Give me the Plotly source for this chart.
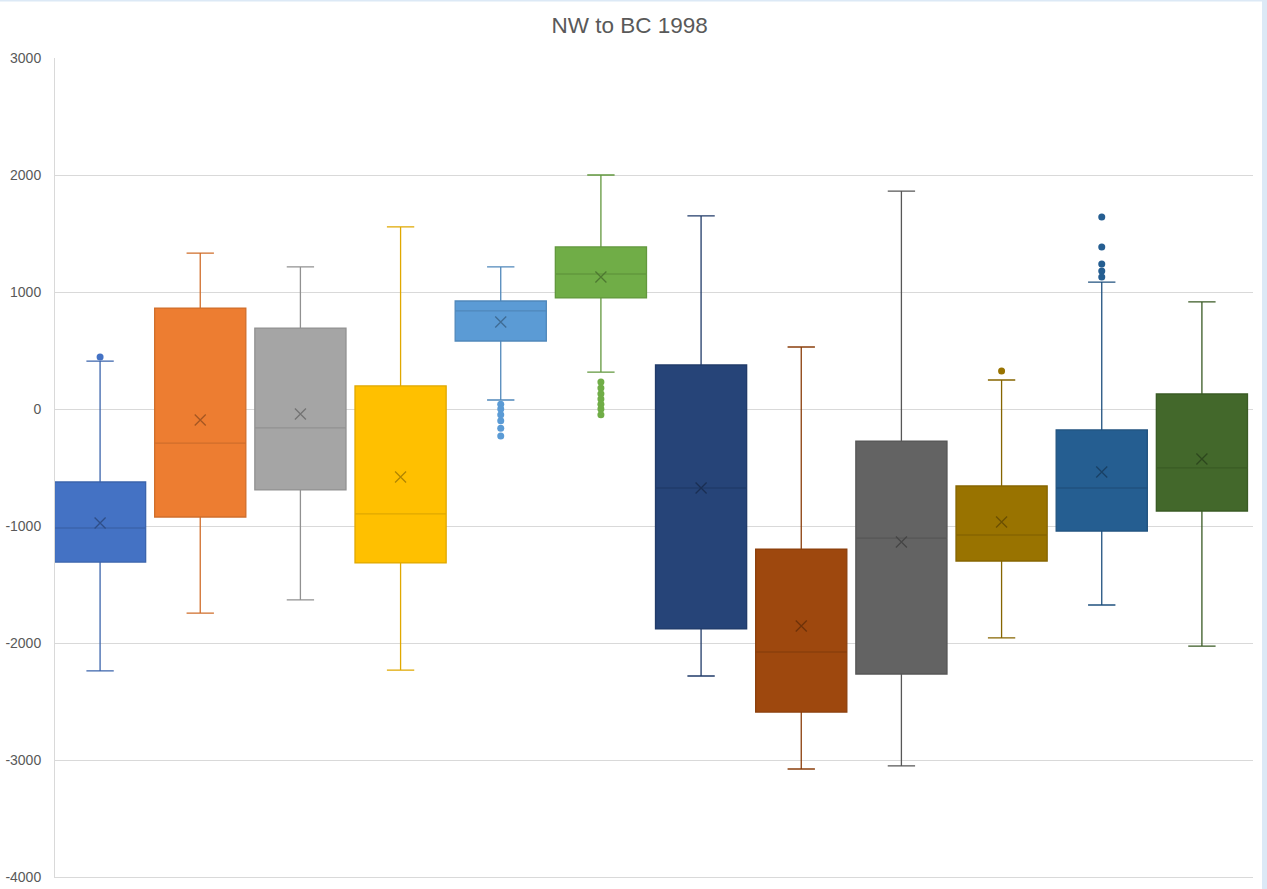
import plotly.graph_objects as go

# box-and-whisker summary (one entry per series)
series = ["S1", "S2", "S3", "S4", "S5", "S6", "S7", "S8", "S9", "S10", "S11", "S12"]
lower = [-2239, -1744, -1632, -2231, 77, 316, -2282, -3077, -3051, -1957, -1675, -2026]
q1 = [-1308, -923, -692, -1316, 581, 949, -1880, -2590, -2265, -1299, -1043, -872]
median = [-1017, -291, -162, -897, 838, 1154, -675, -2077, -1103, -1077, -675, -504]
q3 = [-624, 863, 692, 197, 923, 1385, 376, -1197, -274, -658, -179, 128]
upper = [410, 1333, 1214, 1556, 1214, 2000, 1650, 530, 1863, 248, 1085, 915]
mean = [-974, -94, -43, -581, 744, 1128, -675, -1855, -1137, -966, -538, -427]
outliers = [
    [444],
    [],
    [],
    [],
    [40, 0, -50, -100, -165, -230],
    [230, 180, 130, 85, 40, 0, -50],
    [],
    [],
    [],
    [325],
    [1641, 1385, 1239, 1179, 1128],
    [],
]
colors = ["#4472C4", "#ED7D31", "#A5A5A5", "#FFC000", "#5B9BD5", "#70AD47",
          "#264478", "#9E480E", "#636363", "#997300", "#255E91", "#43682B"]
yticks = [-4000, -3000, -2000, -1000, 0, 1000, 2000, 3000]


def darker(hexcol, f=0.82):
    r, g, b = (int(hexcol[i:i + 2], 16) for i in (1, 3, 5))
    return "#%02x%02x%02x" % (int(r * f), int(g * f), int(b * f))


fig = go.Figure()
for i, name in enumerate(series):
    col = colors[i]
    fig.add_trace(go.Box(
        x=[name], q1=[q1[i]], median=[median[i]], q3=[q3[i]],
        lowerfence=[lower[i]], upperfence=[upper[i]],
        fillcolor=col, line=dict(color=darker(col, 0.88), width=1.3),
        width=0.91, whiskerwidth=0.3, boxpoints=False, showlegend=False,
        hoverinfo="skip",
    ))
    # mean marker
    fig.add_trace(go.Scatter(
        x=[name], y=[mean[i]], mode="markers", showlegend=False,
        marker=dict(symbol="x-thin", size=11, line=dict(color=darker(col, 0.7), width=1.3)),
    ))
    if outliers[i]:
        fig.add_trace(go.Scatter(
            x=[name] * len(outliers[i]), y=outliers[i], mode="markers", showlegend=False,
            marker=dict(symbol="circle", size=7, color=col),
        ))

fig.update_layout(
    width=1267, height=889,
    paper_bgcolor="white", plot_bgcolor="white",
    margin=dict(l=55, r=14, t=58, b=12, autoexpand=False),
    font=dict(family="Liberation Sans", color="#595959", size=14),
    title=dict(text="NW to BC 1998", x=0.497, xanchor="center", y=0.972, yanchor="middle",
               font=dict(size=22.5, color="#595959")),
    showlegend=False,
)
fig.update_xaxes(
    type="category", range=[-0.45, 11.51], showticklabels=False, showgrid=False,
    zeroline=False, showline=True, linecolor="#D9D9D9", mirror=False, ticks="",
    automargin=False,
)
fig.update_yaxes(
    range=[-4000, 3000], tickvals=yticks, ticktext=[str(v) for v in yticks],
    showgrid=True, gridcolor="#D9D9D9", gridwidth=1,
    zeroline=False, showline=True, linecolor="#D9D9D9", ticks="",
    tickfont=dict(size=14, color="#595959"), ticklabelstandoff=10, automargin=False,
)

# light frame of the screenshot on top and right
fig.add_shape(type="rect", xref="paper", yref="paper", x0=-0.05, x1=1.02, y0=1.069, y1=1.075,
              line=dict(width=0), fillcolor="#DCE9F6", layer="above")
fig.add_shape(type="rect", xref="paper", yref="paper", x0=1.0075, x1=1.02, y0=-0.02, y1=1.08,
              line=dict(width=0), fillcolor="#DCE9F6", layer="above")

# drop the page's default body margin so the figure sits at the window corner
fig.write_html("out.html", config={"displayModeBar": False},
               post_script="document.body.style.margin='0';")
